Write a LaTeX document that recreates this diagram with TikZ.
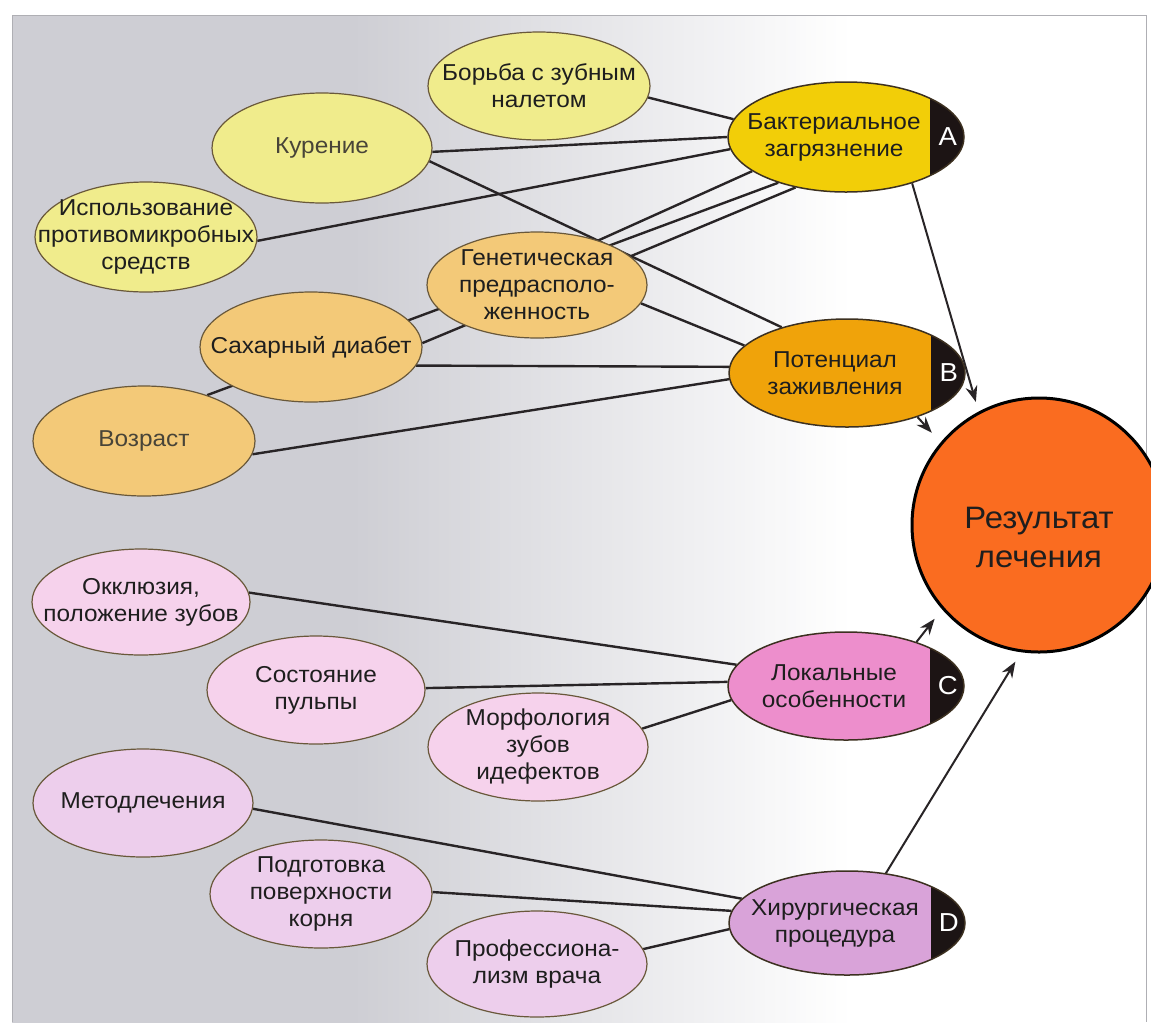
\documentclass[tikz,border=0pt]{standalone}
\usepackage{fontspec}
\setmainfont{Liberation Sans}[FakeStretch=1.06]
\usetikzlibrary{shapes.geometric,arrows.meta}

% palette
\definecolor{pgray}{RGB}{206,206,212}
\definecolor{pedge}{RGB}{175,175,180}
\definecolor{ylight}{RGB}{240,236,140}
\definecolor{ygold}{RGB}{242,206,8}
\definecolor{olight}{RGB}{243,201,120}
\definecolor{ogold}{RGB}{240,163,10}
\definecolor{resc}{RGB}{250,108,32}
\definecolor{plight}{RGB}{246,210,236}
\definecolor{pmid}{RGB}{237,142,204}
\definecolor{llight}{RGB}{237,206,236}
\definecolor{lmid}{RGB}{217,163,217}
\definecolor{edgec}{RGB}{105,88,58}
\definecolor{bigedge}{RGB}{60,48,32}
\definecolor{capc}{RGB}{28,20,20}
\definecolor{linec}{RGB}{40,36,38}
\definecolor{txtc}{RGB}{30,30,30}
\definecolor{softtxt}{RGB}{72,68,56}

\pgfdeclarehorizontalshading{panelfade}{100bp}{color(0bp)=(pgray); color(25bp)=(pgray); color(40bp)=(pgray); color(62bp)=(white); color(100bp)=(white)}

\pgfdeclarelayer{panel}
\pgfdeclarelayer{links}
\pgfsetlayers{panel,links,main}

\tikzset{
  bub/.style={ellipse, draw=edgec, line width=1.2pt, inner sep=0pt},
  big/.style={ellipse, draw=bigedge, line width=1.5pt, inner sep=0pt,
    minimum width=236pt,
    path picture={\fill[capc] ([xshift=84pt]path picture bounding box.south)
      rectangle (path picture bounding box.north east);}},
  txt/.style={align=center, text=txtc, inner sep=0pt},
  capl/.style={text=white, font=\fontsize{26}{26}\selectfont, inner sep=0pt},
  link/.style={draw=linec, line width=2.4pt},
  arr/.style={draw=linec, line width=2pt, -{Stealth[length=16pt,width=12pt]}}
}

\begin{document}
\begin{tikzpicture}[x=1pt, y=-1pt, font=\fontsize{23}{27}\selectfont]
\useasboundingbox (0,0) rectangle (1151,1029);

% page and background panel
\begin{pgfonlayer}{panel}
  \fill[white] (0,0) rectangle (1151,1029);
  \shade[shading=panelfade] (12,15) rectangle (1146,1022);
  \draw[pedge, line width=0.8pt] (12,1022) -- (12,15) -- (1146,15) -- (1146,1022);
\end{pgfonlayer}

% factors of bacterial contamination
\node[bub, fill=ylight, minimum width=222pt, minimum height=108pt,
  label={[txt]center:{Борьба с зубным\\налетом}}] (bor) at (539,86) {};
\node[bub, fill=ylight, minimum width=220pt, minimum height=110pt,
  label={[txt, text=softtxt]center:{Курение}}] (kur) at (322,148) {};
\node[bub, fill=ylight, minimum width=222pt, minimum height=110pt,
  label={[txt]center:{Использование\\противомикробных\\средств}}] (isp) at (146,237) {};
\node[big, fill=ygold, minimum height=110pt,
  label={[txt, xshift=-12pt]center:{Бактериальное\\загрязнение}}] (bak) at (846,137) {};
\node[capl] (bak-l) at ([xshift=-17pt]bak.east) {A};

% factors of healing potential
\node[bub, fill=olight, minimum width=220pt, minimum height=106pt,
  label={[txt]center:{Генетическая\\предрасполо-\\женность}}] (gen) at (537,285) {};
\node[bub, fill=olight, minimum width=222pt, minimum height=110pt,
  label={[txt]center:{Сахарный диабет}}] (sah) at (311,347) {};
\node[bub, fill=olight, minimum width=222pt, minimum height=110pt,
  label={[txt, text=softtxt]center:{Возраст}}] (voz) at (144,441) {};
\node[big, fill=ogold, minimum height=108pt,
  label={[txt, xshift=-12pt]center:{Потенциал\\заживления}}] (pot) at (847,373) {};
\node[capl] (pot-l) at ([xshift=-17pt]pot.east) {B};

% outcome
\node[circle, draw=black, line width=3pt, fill=resc, minimum size=254pt, inner sep=0pt,
  label={[txt, font=\fontsize{31}{39}\selectfont, yshift=-12pt]center:{Результат\\лечения}}] (res) at (1039,525) {};

% local factors
\node[bub, fill=plight, minimum width=218pt, minimum height=106pt,
  label={[txt]center:{Окклюзия,\\положение зубов}}] (okk) at (141,602) {};
\node[bub, fill=plight, minimum width=218pt, minimum height=108pt,
  label={[txt]center:{Состояние\\пульпы}}] (sos) at (316,690) {};
\node[bub, fill=plight, minimum width=220pt, minimum height=108pt,
  label={[txt]center:{Морфология\\зубов\\идефектов}}] (mor) at (538,747) {};
\node[big, fill=pmid, minimum height=108pt,
  label={[txt, xshift=-12pt]center:{Локальные\\особенности}}] (lok) at (846,686) {};
\node[capl] (lok-l) at ([xshift=-17pt]lok.east) {C};

% surgical factors
\node[bub, fill=llight, minimum width=220pt, minimum height=108pt,
  label={[txt]center:{Методлечения}}] (met) at (143,803) {};
\node[bub, fill=llight, minimum width=222pt, minimum height=108pt,
  label={[txt]center:{Подготовка\\поверхности\\корня}}] (pod) at (321,894) {};
\node[bub, fill=llight, minimum width=220pt, minimum height=106pt,
  label={[txt]center:{Профессиона-\\лизм врача}}] (pro) at (537,964) {};
\node[big, fill=lmid, minimum height=104pt,
  label={[txt, xshift=-12pt]center:{Хирургическая\\процедура}}] (hir) at (847,923) {};
\node[capl] (hir-l) at ([xshift=-17pt]hir.east) {D};

% connectors
\begin{pgfonlayer}{links}
  \draw[link] (bor.-6) -- (bak.171);
  \draw[link] (kur.-2) -- (bak.180);
  \draw[link] (kur.-7) -- (pot.145);
  \draw[link] (isp.-2) -- (bak.186);
  \draw[link] (gen.36) -- (bak.200);
  \draw[link] (voz.36) -- (bak.214);
  \draw[link] (sah.2) -- (bak.225);
  \draw[link] (gen.-10) -- (pot.165);
  \draw[link] (sah.-10) -- (pot.177);
  \draw[link] (voz.-7) -- (pot.183);

  \draw[link] (okk.5) -- (lok.169);
  \draw[link] (sos.1) -- (lok.178);
  \draw[link] (mor.10) -- (lok.187);
  \draw[link] (met.-3) -- (hir.167);
  \draw[link] (pod.1) -- (hir.174);
  \draw[link] (pro.8) -- (hir.183);

  \draw[arr, shorten >=10pt] (bak.-35) -- (res.118);
  \draw[arr, shorten >=13pt] (pot.-32) -- (res.140);
  \draw[arr, shorten >=12pt] (lok.32) -- (res.221);
  \draw[arr, shorten >=11pt] (hir.52) -- (res.262);
\end{pgfonlayer}
\end{tikzpicture}
\end{document}
